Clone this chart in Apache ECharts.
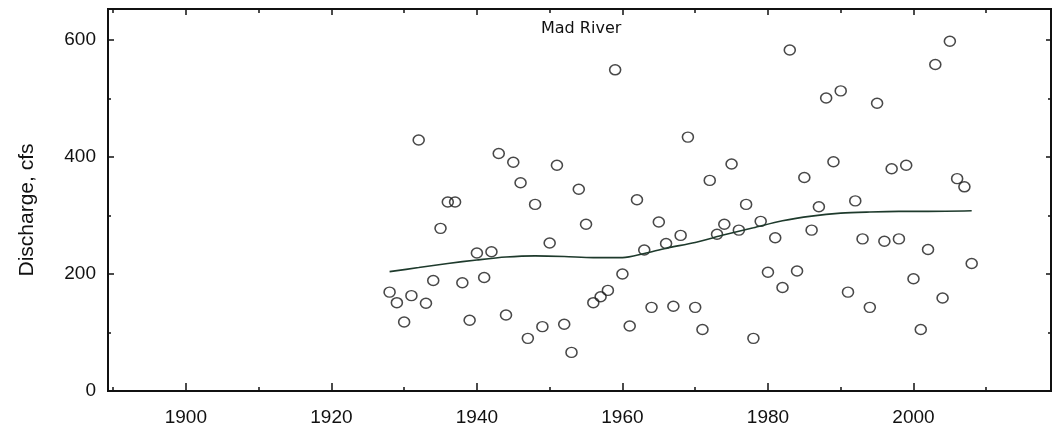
<!DOCTYPE html>
<html>
<head>
<meta charset="utf-8">
<script src="https://cdn.jsdelivr.net/npm/echarts@6/dist/echarts.min.js"></script>
<style>
  html, body { margin: 0; padding: 0; background: #fff; }
  #main { width: 1054px; height: 431px; }
</style>
</head>
<body>
<div id="main"></div>
<script>
// annual peak discharge, Mad River
var years = [1928,1929,1930,1931,1932,1933,1934,1935,1936,1937,1938,1939,1940,1941,1942,1943,1944,1945,1946,1947,
  1948,1949,1950,1951,1952,1953,1954,1955,1956,1957,1958,1959,1960,1961,1962,1963,1964,1965,1966,1967,
  1968,1969,1970,1971,1972,1973,1974,1975,1976,1977,1978,1979,1980,1981,1982,1983,1984,1985,1986,1987,
  1988,1989,1990,1991,1992,1993,1994,1995,1996,1997,1998,1999,2000,2001,2002,2003,2004,2005,2006,2007,2008];
var discharge = [169,151,118,163,429,150,189,278,323,323,185,121,236,194,238,406,130,391,356,90,
  319,110,253,386,114,66,345,285,151,161,172,549,200,111,327,241,143,289,252,145,
  266,434,143,105,360,268,285,388,275,319,90,290,203,262,177,583,205,365,275,315,
  501,392,513,169,325,260,143,492,256,380,260,386,192,105,242,558,159,598,363,349,218];

// smoothed trend line
var trendYears = [1928,1932,1936,1940,1944,1948,1952,1956,1960,1963,1966,1970,1974,1978,1982,1986,1990,1994,1998,2002,2008];
var trendValues = [204,211,218,224,229,231,230,228,228,235,244,254,267,279,291,299,304,306,307,307,308];

// axis ticks
var xLabelTicks = [1900,1920,1940,1960,1980,2000];
var xMinorTicks = [1890,1910,1930,1950,1970,1990,2010];
var yLabelTicks = [0,200,400,600];
var yMinorTicks = [100,300,500];

var xMin = 1889.3, xMax = 2018.9, yMin = 0, yMax = 653;

var pts = [];
for (var i = 0; i < years.length; i++) {
    pts.push([years[i], discharge[i]]);
}
var trend = [];
for (var i = 0; i < trendYears.length; i++) {
    trend.push([trendYears[i], trendValues[i]]);
}

var lineStyle = {color: '#111', width: 2};
function plain(v) { return String(v); }

function xAx(pos, ticks, len, labels) {
    return {
        type: 'value', position: pos, min: xMin, max: xMax,
        axisLine: {show: true, onZero: false, lineStyle: lineStyle},
        axisTick: {show: true, inside: true, length: len, customValues: ticks, lineStyle: {color: '#111', width: 1.5}},
        axisLabel: labels ? {show: true, customValues: labels, formatter: plain, margin: 17, color: '#111',
            fontFamily: 'Liberation Sans, Arial', fontSize: 19} : {show: false},
        splitLine: {show: false}
    };
}
function yAx(pos, ticks, len, labels) {
    var ax = {
        type: 'value', position: pos, min: yMin, max: yMax,
        axisLine: {show: true, onZero: false, lineStyle: lineStyle},
        axisTick: {show: true, inside: true, length: len, customValues: ticks, lineStyle: {color: '#111', width: 1.5}},
        axisLabel: labels ? {show: true, customValues: labels, formatter: plain, margin: 12, color: '#111',
            fontFamily: 'Liberation Sans, Arial', fontSize: 19} : {show: false},
        splitLine: {show: false}
    };
    if (labels) {
        ax.name = 'Discharge, cfs';
        ax.nameLocation = 'middle';
        ax.nameGap = 70;
        ax.nameTextStyle = {color: '#111', fontFamily: 'Liberation Sans, Arial', fontSize: 21, padding: [0, 20, 0, 0]};
    }
    return ax;
}

var myChart = echarts.init(document.getElementById('main'));
var option = {
    backgroundColor: '#fff',
    animation: false,
    title: {
        text: 'Mad River',
        left: 541, top: 21, padding: 0,
        textStyle: {color: '#111', fontFamily: 'DejaVu Sans', fontSize: 16, fontWeight: 'normal'}
    },
    grid: {left: 108, right: 3, top: 9, bottom: 40},
    xAxis: [
        xAx('bottom', xLabelTicks, 8, xLabelTicks),
        xAx('bottom', xMinorTicks, 4, null),
        xAx('top', xLabelTicks, 6, null),
        xAx('top', xMinorTicks, 4, null)
    ],
    yAxis: [
        yAx('left', yLabelTicks, 6, yLabelTicks),
        yAx('left', yMinorTicks, 3, null),
        yAx('right', yLabelTicks, 5, null),
        yAx('right', yMinorTicks, 3, null)
    ],
    series: [
        {
            name: 'discharge',
            type: 'scatter',
            data: pts,
            symbol: 'circle',
            symbolSize: [11, 10],
            itemStyle: {color: 'rgba(0,0,0,0)', borderColor: '#1a1a1a', borderWidth: 1.5}
        },
        {
            name: 'trend',
            type: 'line',
            data: trend,
            smooth: 0.3,
            showSymbol: false,
            lineStyle: {color: '#1e3a2c', width: 1.6}
        }
    ]
};
myChart.setOption(option);
</script>
</body>
</html>
